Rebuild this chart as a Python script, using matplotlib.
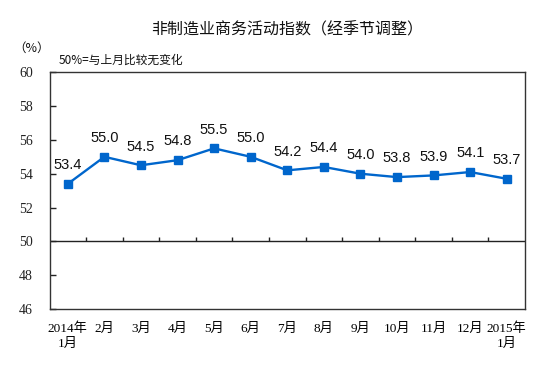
import matplotlib
matplotlib.use('Agg')
import matplotlib.pyplot as plt
import numpy as np

plt.rcParams['font.family'] = ['Noto Sans CJK SC', 'DejaVu Sans']

# data
months = ['2014年\n1月', '2月', '3月', '4月', '5月', '6月', '7月',
          '8月', '9月', '10月', '11月', '12月', '2015年\n1月']
index_values = [53.4, 55.0, 54.5, 54.8, 55.5, 55.0, 54.2,
                54.4, 54.0, 53.8, 53.9, 54.1, 53.7]
y_ticks = [46, 48, 50, 52, 54, 56, 58, 60]

line_color = '#0066CC'
serif_cjk = ['Liberation Serif', 'Noto Sans CJK SC']

fig = plt.figure(figsize=(5.43, 3.89), dpi=100)
ax = fig.add_axes([0.0912, 0.2057, 0.8757, 0.6085])

x = np.arange(len(months))
ax.plot(x, index_values, color=line_color, linewidth=1.7, marker='s',
        markersize=5.5, markerfacecolor=line_color, markeredgecolor=line_color,
        zorder=3)

for xi, v in zip(x, index_values):
    ax.annotate(f'{v:.1f}', (xi, v), xytext=(0, 13.5), textcoords='offset points',
                ha='center', va='center', fontsize=10.5,
                family=['Liberation Sans', 'DejaVu Sans'], color='#111111')

ax.set_xlim(-0.5, len(months) - 0.5)
ax.set_ylim(46, 60)

# 50% reference line with small category tick marks
ax.axhline(50, color='#222222', linewidth=1.0, zorder=2)
ax.vlines(x[:-1] + 0.5, 50, 50.25, color='#222222', linewidth=1.0, zorder=2)

ax.set_yticks(y_ticks)
ax.set_yticklabels([str(t) for t in y_ticks], family=serif_cjk, fontsize=10)
ax.tick_params(axis='y', direction='in', length=4, width=1, pad=12,
               colors='#222222')

ax.set_xticks(x)
ax.set_xticklabels(months, family=serif_cjk, fontsize=9.5, linespacing=1.3)
ax.tick_params(axis='x', length=0, pad=10)

for sp in ax.spines.values():
    sp.set_color('#333333')
    sp.set_linewidth(1.0)

fig.text(0.528, 0.923, '非制造业商务活动指数（经季节调整）', ha='center', va='center',
         fontsize=11.5, color='#111111')
fig.text(0.058, 0.877, '（%）', ha='center', va='center', fontsize=9,
         color='#111111')
fig.text(0.108, 0.845, '50%=与上月比较无变化', ha='left', va='center',
         fontsize=8.5, color='#111111')

plt.savefig('out.png', dpi=100)
